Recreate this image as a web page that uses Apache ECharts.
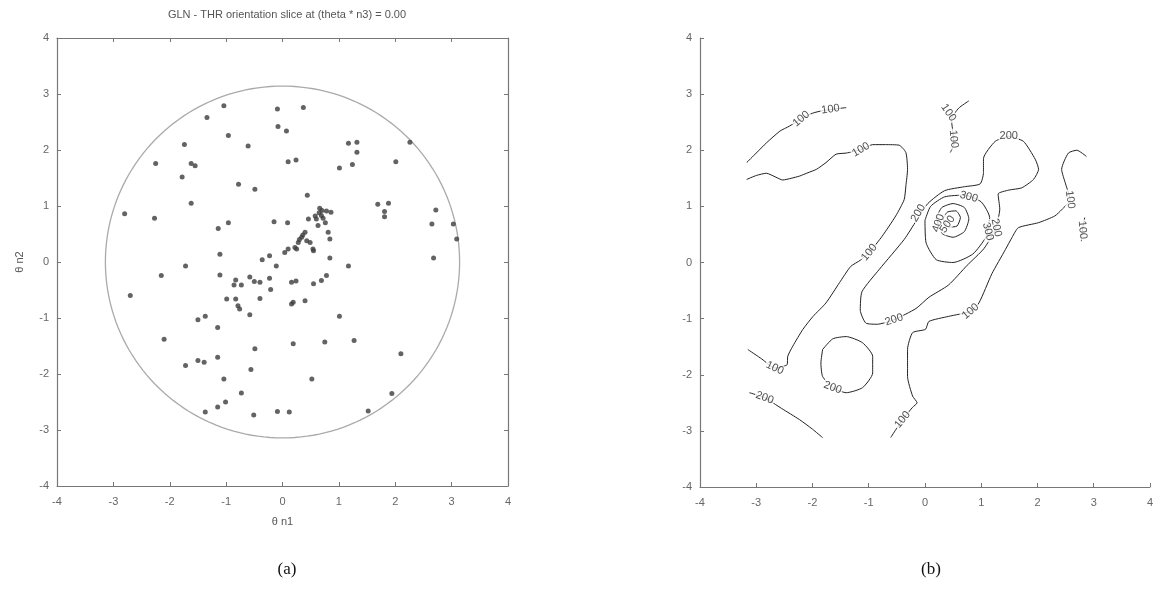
<!DOCTYPE html>
<html>
<head>
<meta charset="utf-8">
<script src="https://cdn.jsdelivr.net/npm/echarts@6/dist/echarts.min.js"></script>
<style>
  html, body { margin: 0; padding: 0; background: #fff; }
  #chart { width: 1156px; height: 594px; }
</style>
</head>
<body>
<div id="chart"></div>
<script>
// ---- data ----
const TITLE = 'GLN - THR orientation slice at (theta * n3) = 0.00';
const AXIS_TICKS = [-4, -3, -2, -1, 0, 1, 2, 3, 4];
const SPHERE_RADIUS = Math.PI; // boundary of the orientation ball

// orientation samples [θ n1, θ n2]
const orientationPoints = [
  [-2.80,0.86],[-2.27,0.78],[-2.25,1.76],[-1.74,2.10],[-1.78,1.52],[-1.62,1.76],[-1.55,1.72],
  [-1.62,1.05],[-1.34,2.58],[-1.04,2.79],[-0.96,2.26],[-0.61,2.07],[-0.78,1.39],[-0.49,1.30],
  [-1.14,0.60],[-0.96,0.70],[-0.15,0.72],[-0.09,2.73],[-0.08,2.42],[-1.11,0.14],[-1.72,-0.07],
  [-0.36,0.04],[-0.23,0.11],[-0.11,-0.07],
  [0.37,2.76],[0.07,2.34],[1.17,2.12],[1.32,2.14],[1.32,1.96],[1.24,1.74],[1.01,1.68],
  [2.26,2.14],[2.01,1.79],[0.10,1.79],[0.24,1.82],[0.44,1.19],[1.69,1.03],[1.88,1.05],
  [1.81,0.90],[1.81,0.81],[2.72,0.93],[2.65,0.68],[3.03,0.68],[3.09,0.41],[2.68,0.07],
  [0.66,0.96],[0.86,0.89],[0.78,0.91],[0.69,0.83],[0.60,0.77],[0.46,0.77],[0.63,0.65],
  [0.76,0.70],[0.81,0.53],[0.84,0.41],[0.40,0.53],[0.34,0.44],[0.28,0.35],[0.43,0.38],
  [0.49,0.35],[0.54,0.23],[0.22,0.26],[0.04,0.17],[0.10,0.23],[0.09,0.70],[0.84,0.07],
  [1.17,-0.07],[0.25,0.23],[0.55,0.20],[0.72,0.78],[0.65,0.88],[0.36,0.48],[0.30,0.40],
  [0.70,0.92],[0.58,0.82],
  [-2.15,-0.24],[-2.70,-0.60],[-1.11,-0.23],[-0.83,-0.32],[-0.73,-0.41],[-0.86,-0.41],
  [-0.58,-0.27],[-0.50,-0.35],[-0.40,-0.36],[-0.23,-0.29],[-0.21,-0.49],[-0.40,-0.65],
  [-0.58,-0.94],[-0.99,-0.66],[-0.83,-0.66],[-0.79,-0.78],[-0.76,-0.84],[-1.50,-1.03],
  [-1.37,-0.97],[-1.15,-1.17],[-2.10,-1.38],[-0.49,-1.55],[-1.15,-1.70],[-1.50,-1.76],
  [-1.39,-1.79],[-1.72,-1.85],[-0.56,-1.92],[-1.04,-2.09],[-0.73,-2.34],[-1.15,-2.59],
  [-1.01,-2.50],[-1.37,-2.68],[-0.51,-2.73],[-0.09,-2.67],
  [0.16,-0.36],[0.24,-0.34],[0.55,-0.39],[0.69,-0.33],[0.78,-0.24],[0.16,-0.75],[0.19,-0.72],
  [0.40,-0.69],[1.01,-0.97],[0.19,-1.46],[0.75,-1.43],[1.27,-1.40],[2.10,-1.64],[0.52,-2.09],
  [1.94,-2.35],[1.52,-2.66],[0.12,-2.68]
];

// contour lines of the density
const contour100West = [[-3.17,1.78],[-3.0,1.95],[-2.82,2.13],[-2.58,2.34],[-2.41,2.43],[-2.2,2.56],
  [-2.0,2.66],[-1.8,2.71],[-1.64,2.73],[-1.4,2.76]];
const contour100Main = [[-3.17,1.48],[-3.0,1.55],[-2.82,1.59],[-2.65,1.52],[-2.53,1.47],[-2.38,1.50],
  [-2.23,1.54],[-2.08,1.60],[-1.93,1.66],[-1.76,1.78],[-1.58,1.93],[-1.40,1.95],[-1.14,2.01],
  [-0.93,2.10],[-0.70,2.10],[-0.46,2.09],[-0.34,1.96],[-0.31,1.66],[-0.34,1.36],[-0.37,1.12],
  [-0.52,0.83],[-0.76,0.47],[-0.99,0.18],[-1.15,0.04],[-1.32,-0.07],[-1.52,-0.36],[-1.76,-0.72],
  [-1.99,-0.96],[-2.17,-1.19],[-2.35,-1.49],[-2.44,-1.67],[-2.45,-1.82],[-2.67,-1.88],
  [-2.9,-1.72],[-3.15,-1.55]];
const contour100East = [[-0.61,-3.12],[-0.5,-2.95],[-0.40,-2.80],[-0.22,-2.58],[-0.14,-2.50],
  [-0.22,-2.38],[-0.31,-2.03],[-0.31,-1.75],[-0.31,-1.55],[-0.22,-1.25],[0.01,-1.19],[0.07,-1.05],
  [0.42,-0.96],[0.81,-0.87],[0.96,-0.72],[1.19,-0.20],[1.43,0.23],[1.55,0.45],[1.66,0.62],
  [2.02,0.71],[2.31,0.83],[2.43,0.94],[2.58,1.12],[2.50,1.40],[2.43,1.66],[2.55,1.95],
  [2.70,2.00],[2.87,1.89]];
const contour100Edge = [[2.84,0.80],[2.80,0.58],[2.78,0.38]];
const contour100North = [[0.78,2.88],[0.60,2.75],[0.47,2.55],[0.50,2.30],[0.51,2.10],[0.45,1.96]];
const contour200SW = [[-3.12,-2.32],[-2.85,-2.41],[-2.55,-2.60],[-2.23,-2.80],[-2.0,-2.97],[-1.82,-3.12]];
const contour200Loop = [[-1.82,-1.55],[-1.64,-1.36],[-1.40,-1.32],[-1.11,-1.43],[-0.93,-1.67],
  [-0.93,-1.97],[-1.11,-2.23],[-1.40,-2.32],[-1.64,-2.23],[-1.82,-2.03],[-1.85,-1.79],[-1.82,-1.55]];
const contour200Main = [[1.49,2.25],[1.75,2.16],[1.96,1.84],[2.02,1.66],[1.93,1.48],[1.72,1.33],
  [1.49,1.29],[1.30,1.22],[1.33,0.95],[1.25,0.60],[1.05,0.25],[0.75,-0.05],[0.42,-0.40],
  [0.07,-0.62],[-0.16,-0.82],[-0.55,-1.02],[-0.85,-1.10],[-1.05,-1.08],[-1.15,-0.85],
  [-1.12,-0.52],[-0.81,-0.12],[-0.37,0.41],[-0.15,0.75],[0.05,1.05],[0.35,1.28],[0.7,1.35],
  [0.98,1.40],[1.04,1.60],[1.04,1.85],[1.25,2.16],[1.49,2.25]];
const contour300 = [[0.0,0.75],[0.1,1.0],[0.35,1.17],[0.7,1.2],[1.0,1.08],[1.15,0.8],[1.08,0.45],
  [0.85,0.15],[0.5,0.0],[0.2,0.05],[0.02,0.35],[0.0,0.75]];
const contour400 = [[0.2,0.8],[0.3,0.98],[0.5,1.05],[0.7,0.98],[0.78,0.78],[0.7,0.55],[0.5,0.45],
  [0.3,0.52],[0.2,0.8]];
const contour500 = [[0.32,0.78],[0.4,0.9],[0.55,0.92],[0.63,0.8],[0.57,0.65],[0.42,0.63],[0.32,0.78]];

const contourLines = [contour100West, contour100Main, contour100East, contour100Edge, contour100North,
  contour200SW, contour200Loop, contour200Main, contour300, contour400, contour500];

// inline level labels: [x, y, text, rotation]
const contourLabels = [
  [-2.2,2.56,'100',40],[-1.68,2.73,'100',8],[-1.14,2.01,'100',30],[-0.99,0.18,'100',50],
  [-2.67,-1.88,'100',-25],[-0.40,-2.80,'100',50],[0.81,-0.87,'100',40],[2.58,1.12,'100',-82],
  [2.80,0.58,'100',-85],[0.42,2.67,'100',-55],[0.51,2.20,'100',-85],
  [-2.85,-2.41,'200',-20],[-1.64,-2.23,'200',-20],[1.49,2.25,'200',0],[-0.55,-1.02,'200',18],
  [-0.12,0.88,'200',60],[1.27,0.62,'200',-78],
  [0.78,1.17,'300',-15],[1.12,0.55,'300',-75],
  [0.24,0.70,'400',70],[0.40,0.68,'500',55]
];

// ---- chart ----
const chart = echarts.init(document.getElementById('chart'), null, { renderer: 'canvas' });
const FONT = 'Liberation Sans, Arial, sans-serif';
const axisCol = '#777';
const labelCol = '#666';

function valueAxis(extra) {
  return Object.assign({
    type: 'value', min: -4, max: 4, interval: 1,
    axisLine: { show: true, onZero: false, lineStyle: { color: axisCol, width: 1.2 } },
    axisTick: { show: true, inside: true, length: 4, lineStyle: { color: axisCol } },
    axisLabel: { color: labelCol, fontSize: 11, fontFamily: FONT },
    splitLine: { show: false }
  }, extra);
}

const contourSeries = contourLines.map(pts => ({
  type: 'line', xAxisIndex: 2, yAxisIndex: 2, data: pts, showSymbol: false, symbol: 'none',
  smooth: 0.2, lineStyle: { color: '#222', width: 1 }, silent: true, z: 2, animation: false
}));

const option = {
  animation: false,
  backgroundColor: '#fff',
  title: [
    { text: TITLE, left: 282, top: 4, textAlign: 'center',
      textStyle: { fontSize: 11, fontWeight: 'normal', color: '#555', fontFamily: FONT } },
    { text: '(a)', left: 282, top: 556, textAlign: 'center',
      textStyle: { fontSize: 17, fontWeight: 'normal', color: '#111', fontFamily: 'Liberation Serif, DejaVu Serif, serif' } },
    { text: '(b)', left: 926, top: 556, textAlign: 'center',
      textStyle: { fontSize: 17, fontWeight: 'normal', color: '#111', fontFamily: 'Liberation Serif, DejaVu Serif, serif' } }
  ],
  grid: [
    { left: 57, top: 38, width: 451, height: 448, show: false },
    { left: 700, top: 38, width: 452, height: 449, show: false }
  ],
  xAxis: [
    valueAxis({ gridIndex: 0, position: 'bottom', axisLabel: { color: labelCol, fontSize: 11, fontFamily: FONT, margin: 10 },
      name: 'θ n1', nameLocation: 'middle', nameGap: 30,
      nameTextStyle: { color: '#555', fontSize: 11, fontFamily: FONT } }),
    valueAxis({ gridIndex: 0, position: 'top', axisLabel: { show: false } }),
    valueAxis({ gridIndex: 1, position: 'bottom', axisLabel: { color: labelCol, fontSize: 11, fontFamily: FONT, margin: 10 } })
  ],
  yAxis: [
    valueAxis({ gridIndex: 0, position: 'left', axisLabel: { color: labelCol, fontSize: 11, fontFamily: FONT, margin: 8 },
      name: 'θ n2', nameLocation: 'middle', nameGap: 32,
      nameTextStyle: { color: '#555', fontSize: 11, fontFamily: FONT } }),
    valueAxis({ gridIndex: 0, position: 'right', axisLabel: { show: false } }),
    valueAxis({ gridIndex: 1, position: 'left', axisLabel: { color: labelCol, fontSize: 11, fontFamily: FONT, margin: 8 } })
  ],
  series: [
    {
      // boundary circle of radius π
      type: 'custom', xAxisIndex: 0, yAxisIndex: 0, data: [[SPHERE_RADIUS]], silent: true, z: 1,
      renderItem: function (params, api) {
        const r = api.value(0);
        const pts = [];
        for (let i = 0; i <= 180; i++) {
          const a = i / 180 * 2 * Math.PI;
          pts.push(api.coord([r * Math.cos(a), r * Math.sin(a)]));
        }
        return { type: 'polyline', shape: { points: pts },
          style: { stroke: '#aaa', lineWidth: 1.3, fill: null } };
      }
    },
    {
      type: 'scatter', xAxisIndex: 0, yAxisIndex: 0, data: orientationPoints,
      symbol: 'circle', symbolSize: 5, itemStyle: { color: '#3c3c3c' }, z: 3
    },
    ...contourSeries,
    {
      type: 'scatter', xAxisIndex: 2, yAxisIndex: 2, symbol: 'circle', symbolSize: 1, z: 5, silent: true,
      itemStyle: { color: 'rgba(0,0,0,0)' },
      labelLayout: { hideOverlap: false },
      data: contourLabels.map(d => ({
        value: [d[0], d[1]],
        label: { show: true, position: 'inside', formatter: d[2], rotate: d[3],
          color: '#222', fontSize: 11, fontFamily: FONT, backgroundColor: '#fff', padding: [0, 1] }
      }))
    }
  ]
};
chart.setOption(option);
</script>
</body>
</html>
